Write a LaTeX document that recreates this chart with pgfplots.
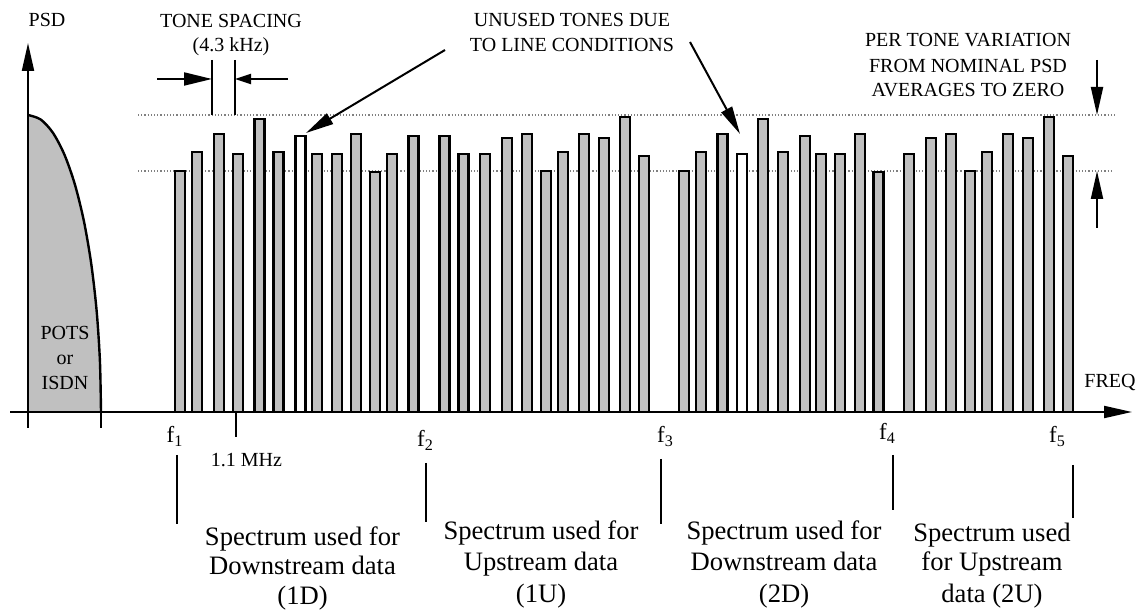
\documentclass[border=0pt]{standalone}
\usepackage{fontspec}
\setmainfont{Liberation Serif}
\usepackage{pgfplots}
\pgfplotsset{compat=1.18}
\usetikzlibrary{arrows.meta}
\definecolor{barfill}{RGB}{192,192,192}
\tikzset{
  tsmall/.style={font=\fontsize{10}{12}\selectfont, anchor=base, inner sep=0pt},
  tbig/.style={font=\fontsize{13.3}{15}\selectfont, anchor=base, inner sep=0pt},
  tflab/.style={font=\fontsize{11.5}{13}\selectfont, anchor=base, inner sep=0pt},
  tarr/.style={-{Triangle[length=14pt,width=6pt]}, line width=1pt},
}
\begin{document}
\begin{tikzpicture}
\begin{axis}[
  scale only axis, width=571.5pt, height=304.5pt,
  xmin=0, xmax=1143, ymin=-197, ymax=412,
  hide axis, clip=false,
]
% POTS / ISDN band
\addplot[fill=barfill, draw=none, smooth] coordinates {
  (28,297) (40.7,292.5) (53,279.1) (64.5,257.2) (74.9,227.5) (83.9,190.9)
  (91.2,148.5) (96.6,101.6) (99.9,51.6) (101,0)} \closedcycle;
\addplot[black, line width=1.2pt, smooth] coordinates {
  (28,297) (40.7,292.5) (53,279.1) (64.5,257.2) (74.9,227.5) (83.9,190.9)
  (91.2,148.5) (96.6,101.6) (99.9,51.6) (101,0)};
% reference levels
\addplot[densely dotted, gray, line width=0.6pt] coordinates {(138,297) (1117,297)};
\addplot[densely dotted, gray, line width=0.6pt] coordinates {(138,241) (1113,241)};
% used tones
\addplot[ybar, bar width=10, bar shift=0pt, fill=barfill, draw=black, line width=1.1pt] coordinates {
  (180,241) (197,260) (219,278) (238,258) (259.5,293) (278.5,260)
  (317,258) (337,258) (356,278) (375,240) (392,258) (413.5,276)
  (444.5,276) (463.5,258) (485,258) (506.7,274) (527,278) (545.7,241)
  (563,260) (584.3,278) (604,274) (625,295) (644,256)
  (684,241) (701,260) (722.5,278) (763,293) (782.7,260) (804.7,276)
  (821,258) (840,258) (860,278) (878.5,240)
  (909,258) (930.7,274) (951,278) (970,241) (987,260) (1008,278)
  (1028,274) (1049,295) (1068,256)};
% unused tones
\addplot[ybar, bar width=10, bar shift=0pt, fill=white, draw=black, line width=1.1pt] coordinates {
  (300.5,276) (742,258)};
% axes
\draw[-{Triangle[length=14pt,width=6pt]}, line width=1pt] (10,0) -- (1132,0);
\draw[-{Triangle[length=14pt,width=6pt]}, line width=1pt] (28,-16) -- (28,369);
\draw[line width=1pt] (101,0) -- (101,-16);
\node[tsmall] at (47,385) {PSD};
\node[tsmall] at (1110,24) {FREQ};
\node[tsmall] at (65,72) {POTS};
\node[tsmall] at (65,47) {or};
\node[tsmall] at (65,22) {ISDN};
% tone spacing
\draw[line width=1pt] (212,352) -- (212,297);
\draw[line width=1pt] (235,352) -- (235,297);
\draw[-{Triangle[length=14pt,width=6.5pt]}, line width=1pt] (157,333) -- (212,333);
\draw[-{Triangle[length=8pt,width=5pt]}, line width=1pt] (288,333) -- (235,333);
\node[tsmall] at (231,384) {TONE SPACING};
\node[tsmall] at (231,360) {(4.3 kHz)};
% unused tones annotation
\node[tsmall] at (572,385) {UNUSED TONES DUE};
\node[tsmall] at (572,360) {TO LINE CONDITIONS};
\draw[tarr] (445,362) -- (306,279);
\draw[tarr] (690,370) -- (740,278);
% variation annotation
\node[tsmall] at (968,365) {PER TONE VARIATION};
\node[tsmall] at (968,339) {FROM NOMINAL PSD};
\node[tsmall] at (968,315) {AVERAGES TO ZERO};
\draw[tarr] (1097,352) -- (1097,297);
\draw[tarr] (1097,184) -- (1097,241);
% frequency marks
\draw[line width=1pt] (235.7,0) -- (235.7,-25);
\node[tsmall] at (246.5,-55) {1.1 MHz};
\node[tflab] at (175,-31) {f\textsubscript{1}};
\node[tflab] at (425.5,-35) {f\textsubscript{2}};
\node[tflab] at (665.5,-31) {f\textsubscript{3}};
\node[tflab] at (887.5,-28) {f\textsubscript{4}};
\node[tflab] at (1057.5,-31) {f\textsubscript{5}};
\draw[line width=1pt] (176.7,-43) -- (176.7,-112);
\draw[line width=1pt] (425.7,-51) -- (425.7,-110);
\draw[line width=1pt] (661,-47) -- (661,-112);
\draw[line width=1pt] (892.7,-43) -- (892.7,-98);
\draw[line width=1pt] (1073,-53) -- (1073,-106);
% band descriptions
\node[tbig] at (302.5,-134) {Spectrum used for};
\node[tbig] at (302.5,-163) {Downstream data};
\node[tbig] at (302.5,-193) {(1D)};
\node[tbig] at (541,-128) {Spectrum used for};
\node[tbig] at (541,-158) {Upstream data};
\node[tbig] at (541,-190) {(1U)};
\node[tbig] at (784,-128) {Spectrum used for};
\node[tbig] at (784,-158) {Downstream data};
\node[tbig] at (784,-190) {(2D)};
\node[tbig] at (992,-130) {Spectrum used};
\node[tbig] at (992,-158) {for Upstream};
\node[tbig] at (992,-190) {data (2U)};
\end{axis}
\pgfresetboundingbox
\path (current axis.south west) rectangle (current axis.north east);
\end{tikzpicture}
\end{document}
